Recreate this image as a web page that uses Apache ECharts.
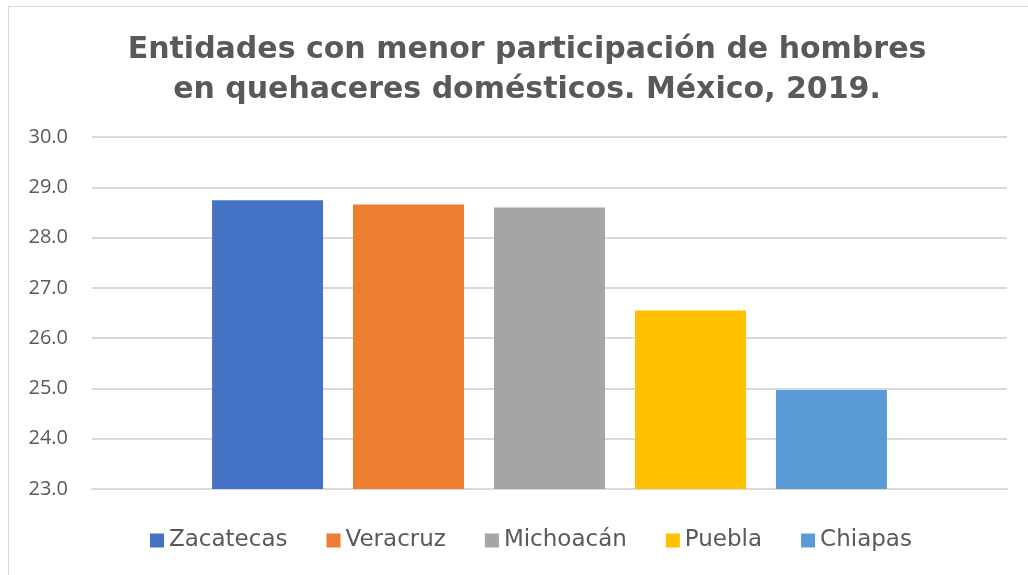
<!DOCTYPE html>
<html>
<head>
<meta charset="utf-8">
<script src="https://cdn.jsdelivr.net/npm/echarts@6/dist/echarts.min.js"></script>
<style>
  html, body { margin: 0; padding: 0; background: #fff; }
  .frame { position: absolute; left: 8px; top: 6px; width: 1030px; height: 580px; border: 1px solid #d9d9d9; box-sizing: border-box; }
  .chart { position: absolute; left: 0; top: 0; width: 1028px; height: 575px; }
</style>
</head>
<body>
<div class="frame"></div>
<div class="chart"></div>
<script>
  // entidades y valores (%)
  const states = ['Zacatecas', 'Veracruz', 'Michoacán', 'Puebla', 'Chiapas'];
  const values = [28.74, 28.66, 28.60, 26.55, 24.97];
  const colors = ['#4472c4', '#ed7d31', '#a5a5a5', '#ffc000', '#5b9bd5'];
  const category = [''];

  const myChart = echarts.init(document.querySelector('.chart'));
  const series = states.map((name, i) => ({
    name: name,
    type: 'bar',
    data: [values[i]],
    barWidth: 111,
    barGap: '27%',
    itemStyle: { color: colors[i] }
  }));

  let option = {
    animation: false,
    title: {
      text: 'Entidades con menor participación de hombres\nen quehaceres domésticos. México, 2019.',
      left: 522,
      textAlign: 'center',
      top: 25,
      textStyle: {
        color: '#595959',
        fontFamily: 'DejaVu Sans',
        fontWeight: 'bold',
        fontSize: 30,
        lineHeight: 40
      }
    },
    grid: {
      left: 92,
      right: 21,
      top: 137,
      bottom: 86
    },
    legend: {
      bottom: 18,
      left: 145,
      itemWidth: 14,
      itemHeight: 14,
      itemGap: 39,
      icon: 'rect',
      textStyle: { color: '#595959', fontSize: 23, fontFamily: 'DejaVu Sans' },
      data: states
    },
    xAxis: {
      type: 'category',
      data: category,
      axisLine: { show: true, lineStyle: { color: '#d9d9d9', width: 2 } },
      axisTick: { show: false },
      axisLabel: { show: false }
    },
    yAxis: {
      type: 'value',
      min: 23,
      max: 30,
      interval: 1,
      axisLine: { show: false },
      axisTick: { show: false },
      axisLabel: {
        formatter: (v) => v.toFixed(1),
        color: '#595959',
        fontSize: 20,
        fontFamily: 'Open Sans',
        margin: 24
      },
      splitLine: { lineStyle: { color: '#d9d9d9', width: 2 } }
    },
    series: series
  };
  myChart.setOption(option);
</script>
</body>
</html>
